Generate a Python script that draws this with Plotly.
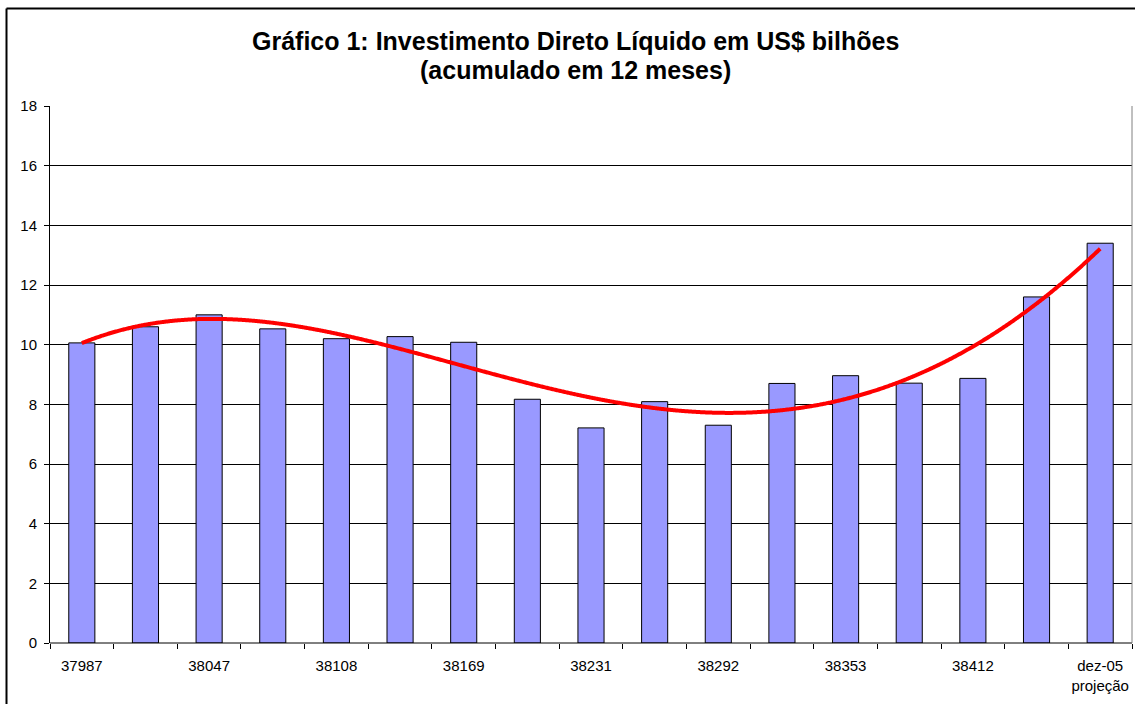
import numpy as np
import plotly.graph_objects as go

# Data
categories = ["37987", "38018", "38047", "38078", "38108", "38139", "38169", "38200",
              "38231", "38261", "38292", "38322", "38353", "38384", "38412", "38443",
              "dez-05<br>projeção"]
values = [10.06, 10.6, 11.0, 10.53, 10.2, 10.27, 10.08, 8.17, 7.21, 8.09, 7.3,
          8.7, 8.96, 8.71, 8.87, 11.6, 13.4]
shown_labels = [c if i % 2 == 0 else "" for i, c in enumerate(categories)]
y_ticks = [0, 2, 4, 6, 8, 10, 12, 14, 16, 18]
title_lines = ["Gráfico 1: Investimento Direto Líquido em US$ bilhões",
               "(acumulado em 12 meses)"]

xpos = np.arange(1, len(values) + 1)

# polynomial trendline (order 4) as in the spreadsheet
coef = np.polyfit(xpos, values, 4)
xs = np.linspace(1, len(values), 600)
ys = np.polyval(coef, xs)

fig = go.Figure()
fig.add_trace(go.Bar(
    x=xpos, y=values, width=0.41,
    marker=dict(color="#9999FF", line=dict(color="#000000", width=1)),
    showlegend=False, hoverinfo="y"))
fig.add_trace(go.Scatter(
    x=xs, y=ys, mode="lines", line=dict(color="#FF0000", width=4, shape="spline"),
    showlegend=False, hoverinfo="skip"))

W, H = 1135, 704
L, R, T, B = 50, 3, 106, 61
pw, ph = W - L - R, H - T - B
fx = lambda px: (px - L) / pw          # screen px -> paper x
fy = lambda py: (H - B - py) / ph      # screen py -> paper y

FONT = "Liberation Sans, Arial, sans-serif"

fig.update_layout(
    width=W, height=H,
    margin=dict(l=L, r=R, t=T, b=B, pad=0),
    paper_bgcolor="white", plot_bgcolor="white",
    font=dict(family=FONT, size=15, color="#000000"),
    xaxis=dict(
        range=[0.5, len(values) + 0.5],
        tickvals=list(xpos), ticktext=shown_labels,
        ticks="", showgrid=False, zeroline=False, showline=False,
        tickfont=dict(size=15), ticklabelstandoff=12,
        minor=dict(tickvals=list(np.arange(0.5, len(values) + 1, 1.0)),
                   ticks="outside", ticklen=5, tickcolor="#000000", showgrid=False),
    ),
    yaxis=dict(
        range=[0, 18], tickvals=y_ticks,
        ticks="outside", ticklen=5, tickcolor="#000000",
        showgrid=True, gridcolor="#000000", gridwidth=1,
        zeroline=False, showline=True, linecolor="#000000", linewidth=1,
        tickfont=dict(size=15), ticklabelstandoff=4,
    ),
    annotations=[
        dict(text="<b>" + title_lines[0] + "</b>", xref="paper", yref="paper",
             x=fx(575), y=fy(41), xanchor="center", yanchor="middle",
             showarrow=False, font=dict(size=25, family=FONT, color="#000000")),
        dict(text="<b>" + title_lines[1] + "</b>", xref="paper", yref="paper",
             x=fx(575), y=fy(70), xanchor="center", yanchor="middle",
             showarrow=False, font=dict(size=25, family=FONT, color="#000000")),
    ],
    shapes=[
        # x axis line
        dict(type="line", xref="paper", yref="paper", x0=0, x1=1, y0=0, y1=0,
             line=dict(color="#000000", width=1)),
        # right plot-area edge
        dict(type="line", xref="paper", yref="paper", x0=1, x1=1, y0=0, y1=1,
             line=dict(color="#808080", width=1)),
        # outer chart frame (left and top)
        dict(type="line", xref="paper", yref="paper", x0=fx(6.5), x1=fx(6.5),
             y0=fy(710), y1=fy(8.5), line=dict(color="#000000", width=2)),
        dict(type="line", xref="paper", yref="paper", x0=fx(6.5), x1=fx(1140),
             y0=fy(8.5), y1=fy(8.5), line=dict(color="#000000", width=2)),
    ],
)

fig.write_html(
    "out.html",
    config={"displayModeBar": False},
    post_script="document.body.style.margin='0';document.body.style.overflow='hidden';",
)
